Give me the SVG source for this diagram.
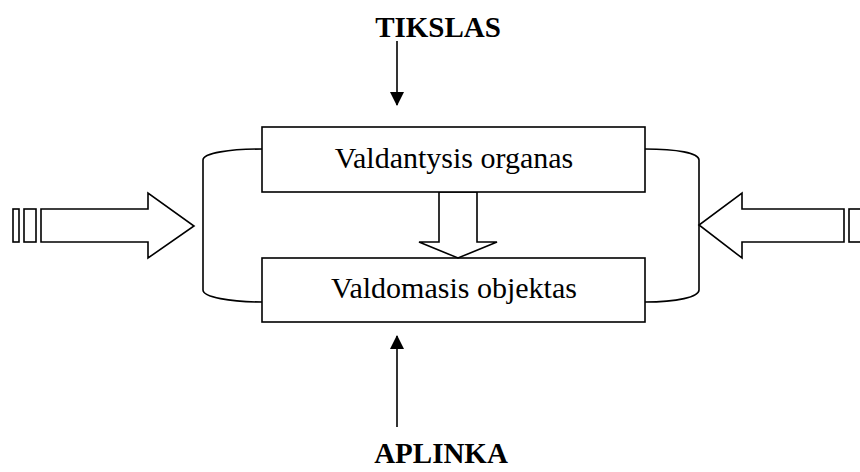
<svg xmlns="http://www.w3.org/2000/svg" width="860" height="472" viewBox="0 0 860 472">
<defs>
<style>
.s{fill:#fff;stroke:#000;stroke-width:1.6}
.l{fill:none;stroke:#000;stroke-width:1.6}
.t{font-family:"Liberation Serif","Times New Roman",serif;font-size:30px;text-anchor:middle;fill:#000}
.b{font-family:"Liberation Serif","Times New Roman",serif;font-size:29px;font-weight:bold;text-anchor:middle;fill:#000}
</style>
<marker id="ah" markerWidth="14" markerHeight="14" refX="13" refY="7" orient="auto" markerUnits="userSpaceOnUse">
<path d="M0,0 L14,7 L0,14 Z" fill="#000"/>
</marker>
</defs>
<rect width="860" height="472" fill="#fff"/>
<g id="connectors">
<path class="l" d="M262,149 C230,149 203,153 203,160 L203,290 C203,297 230,302 262,302"/>
<path class="l" d="M645,149 C677,149 699,153 699,160 L699,290 C699,297 677,302 645,302"/>
<line class="l" x1="397" y1="41" x2="397" y2="105" marker-end="url(#ah)"/>
<line class="l" x1="397" y1="427" x2="397" y2="336" marker-end="url(#ah)"/>
<g id="leftarrow">
<rect class="s" x="13" y="209" width="6" height="33"/>
<rect class="s" x="24" y="209" width="12" height="33"/>
<path class="s" d="M41,209 L148,209 L148,193 L194,226 L148,258 L148,242 L41,242 Z"/>
</g>
<g id="rightarrow">
<rect class="s" x="849" y="209" width="14" height="33"/>
<path class="s" d="M844,209 L742,209 L742,193 L699,225 L742,258 L742,242 L844,242 Z"/>
</g>
<path class="s" d="M439,192 L477,192 L477,242 L497,242 L458,258 L419,242 L439,242 Z"/>
</g>
<g id="tikslas"><text class="b" x="438" y="37">TIKSLAS</text></g>
<g id="valdantysis">
<rect class="s" x="262" y="127" width="383" height="65"/>
<text class="t" x="454" y="168">Valdantysis organas</text>
</g>
<g id="valdomasis">
<rect class="s" x="262" y="258" width="383" height="64" style="fill:none"/>
<text class="t" x="454" y="298">Valdomasis objektas</text>
</g>
<g id="aplinka"><text class="b" x="441" y="463">APLINKA</text></g>
</svg>
